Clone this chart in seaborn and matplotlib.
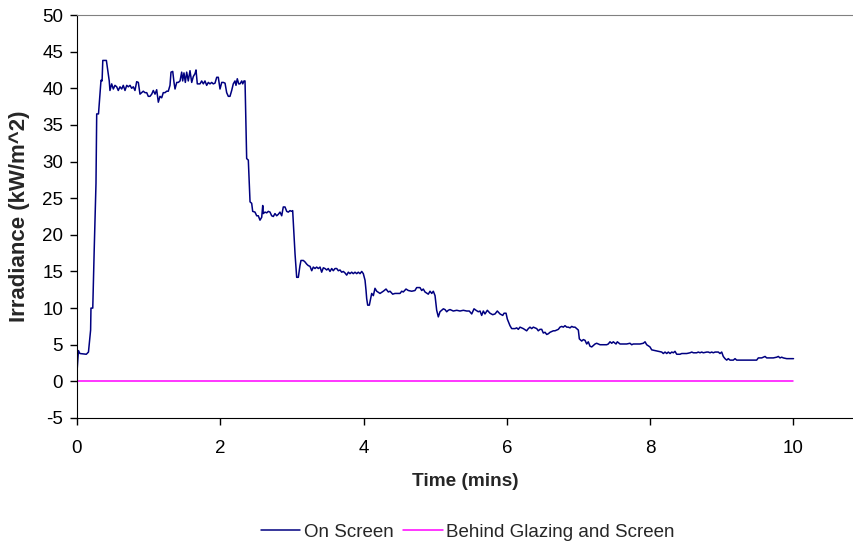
import numpy as np
import matplotlib
matplotlib.use("Agg")
import matplotlib.pyplot as plt
import pandas as pd
import seaborn as sns

# irradiance measured on the screen (kW/m^2) against time (mins)
on_screen_time = [
    0.00, 0.02, 0.04, 0.13, 0.16, 0.19, 0.195, 0.22, 0.24, 0.265,
    0.275, 0.30, 0.335, 0.35, 0.36, 0.41, 0.45, 0.46, 0.484, 0.507,
    0.530, 0.554, 0.576, 0.600, 0.624, 0.646, 0.670, 0.694, 0.716, 0.740,
    0.763, 0.786, 0.809, 0.833, 0.856, 0.879, 0.903, 0.925, 0.949, 0.973,
    0.995, 1.019, 1.043, 1.065, 1.089, 1.112, 1.135, 1.158, 1.182, 1.204,
    1.228, 1.252, 1.274, 1.298, 1.312, 1.336, 1.354, 1.368, 1.392, 1.414,
    1.438, 1.461, 1.475, 1.493, 1.512, 1.531, 1.553, 1.577, 1.601, 1.623,
    1.647, 1.661, 1.679, 1.717, 1.740, 1.763, 1.786, 1.810, 1.833, 1.856,
    1.880, 1.902, 1.926, 1.950, 1.972, 1.996, 2.020, 2.042, 2.066, 2.089,
    2.112, 2.135, 2.159, 2.181, 2.205, 2.219, 2.237, 2.257, 2.275, 2.299,
    2.313, 2.331, 2.345,
    2.368, 2.391, 2.415, 2.438, 2.452, 2.484, 2.508, 2.530, 2.554, 2.578,
    2.592, 2.600, 2.624, 2.648, 2.670, 2.694, 2.717, 2.740, 2.763, 2.787,
    2.810, 2.833, 2.857, 2.879, 2.903, 2.927, 2.949, 2.973, 2.997, 3.010,
    3.043, 3.066, 3.089, 3.112, 3.126, 3.159, 3.182, 3.206, 3.228, 3.252,
    3.276, 3.298, 3.322, 3.345, 3.368, 3.392, 3.415, 3.438, 3.461, 3.485,
    3.507, 3.531, 3.555, 3.577, 3.601, 3.625, 3.647, 3.671, 3.694, 3.717,
    3.740, 3.764, 3.787, 3.810, 3.834, 3.856, 3.880, 3.904, 3.926, 3.950,
    3.974, 3.996, 4.020, 4.034, 4.043, 4.057, 4.080,
    4.113, 4.136, 4.159, 4.183, 4.229, 4.275, 4.313, 4.345, 4.369, 4.406,
    4.438, 4.508, 4.532, 4.554, 4.592, 4.624, 4.671, 4.717, 4.741, 4.787,
    4.811, 4.833, 4.857, 4.903, 4.927, 4.951, 4.973, 4.997,
    5.020, 5.043, 5.066, 5.090, 5.113, 5.136, 5.160, 5.182, 5.206, 5.252,
    5.300, 5.345, 5.392, 5.439, 5.475, 5.509, 5.541, 5.569, 5.601, 5.625,
    5.648, 5.671, 5.694, 5.727, 5.764, 5.802, 5.834, 5.866, 5.904, 5.942,
    5.960, 5.988,
    6.006, 6.043, 6.067, 6.113, 6.137, 6.159, 6.183, 6.229, 6.276, 6.299,
    6.322, 6.346, 6.369, 6.416, 6.438, 6.462, 6.486, 6.508, 6.532, 6.556,
    6.578, 6.602, 6.648, 6.671, 6.718, 6.741, 6.765, 6.787, 6.811, 6.835,
    6.857, 6.881, 6.905, 6.927, 6.951, 6.974, 6.997,
    7.011, 7.044, 7.067, 7.090, 7.114, 7.136, 7.160, 7.184, 7.206, 7.230,
    7.253, 7.276, 7.300, 7.346, 7.393, 7.415, 7.439, 7.463, 7.485, 7.523,
    7.541, 7.579, 7.625, 7.672, 7.718, 7.742, 7.764, 7.812, 7.858, 7.904,
    7.928, 7.951, 7.997,
    8.021, 8.067, 8.113, 8.161, 8.183, 8.207, 8.231, 8.253, 8.277, 8.301,
    8.323, 8.346, 8.370, 8.416, 8.440, 8.462, 8.510, 8.556, 8.580, 8.602,
    8.649, 8.671, 8.695, 8.719, 8.741, 8.789, 8.811, 8.835, 8.858, 8.881,
    8.905, 8.928, 8.951, 8.974, 8.998,
    9.020, 9.044, 9.068, 9.090, 9.114, 9.160, 9.184, 9.207, 9.253, 9.347,
    9.439, 9.486, 9.509, 9.556, 9.603, 9.626, 9.672, 9.718, 9.766, 9.788,
    9.812, 9.835, 9.858, 9.905, 9.951, 10.0,
]
on_screen_irr = [
    1.3, 4.2, 3.8, 3.7, 4.0, 7.0, 10.0, 10.0, 17.9, 27.0,
    36.5, 36.5, 41.1, 41.0, 43.8, 43.8, 41.0, 39.7, 40.6, 39.9,
    40.4, 40.2, 39.7, 40.2, 39.9, 40.4, 39.7, 40.4, 40.2, 40.4,
    40.0, 40.2, 39.7, 40.9, 40.8, 39.2, 39.4, 39.6, 39.4, 39.4,
    38.9, 38.9, 39.2, 39.7, 39.2, 39.8, 38.1, 38.9, 38.7, 39.4,
    39.4, 39.6, 39.6, 40.4, 42.2, 42.3, 40.8, 39.9, 40.8, 40.8,
    41.0, 42.2, 41.0, 42.1, 40.8, 42.2, 41.0, 42.4, 40.8, 41.6,
    42.0, 42.5, 40.6, 40.6, 41.0, 40.6, 41.0, 40.4, 40.8, 40.6,
    40.8, 40.6, 40.7, 41.5, 41.5, 39.9, 40.8, 40.8, 40.7, 39.4,
    38.9, 38.9, 39.7, 40.6, 41.0, 40.4, 41.3, 40.6, 40.6, 41.0,
    40.6, 41.0, 41.0,
    30.4, 30.2, 24.5, 24.3, 23.2, 23.1, 22.6, 22.6, 22.0, 22.4,
    24.0, 22.9, 23.1, 23.0, 23.2, 23.1, 22.6, 22.5, 22.9, 22.6,
    22.8, 23.1, 22.6, 23.8, 23.8, 23.2, 23.1, 23.3, 23.2, 23.3,
    17.4, 14.2, 14.2, 15.8, 16.5, 16.5, 16.3, 16.0, 15.8, 15.7,
    15.1, 15.6, 15.4, 15.6, 15.4, 15.6, 14.9, 15.5, 15.4, 15.2,
    15.4, 15.0, 15.4, 15.1, 15.4, 15.4, 15.1, 15.2, 14.9, 15.0,
    14.8, 14.5, 14.9, 14.7, 14.9, 14.7, 14.9, 14.7, 14.9, 14.7,
    15.0, 14.7, 13.8, 12.4, 11.3, 10.4, 10.4,
    12.0, 11.7, 12.7, 12.3, 12.0, 12.3, 12.6, 12.2, 12.3, 11.9,
    12.0, 12.0, 12.3, 12.2, 12.6, 12.4, 12.3, 12.4, 12.8, 12.8,
    12.4, 12.6, 12.2, 11.9, 12.3, 12.0, 12.3, 11.7,
    9.7, 8.8, 9.5, 9.7, 9.9, 9.8, 9.5, 9.7, 9.8, 9.6,
    9.7, 9.6, 9.7, 9.6, 9.6, 9.2, 9.9, 9.7, 9.5, 9.6,
    9.0, 9.6, 9.2, 9.7, 9.3, 9.1, 9.2, 9.6, 9.2, 9.0,
    9.3, 9.3,
    8.5, 7.6, 7.2, 7.2, 7.3, 7.1, 7.4, 7.2, 6.9, 7.2,
    7.4, 7.2, 7.4, 7.2, 6.9, 7.1, 7.1, 6.6, 6.7, 6.4,
    6.5, 6.7, 6.9, 6.9, 7.1, 7.4, 7.5, 7.4, 7.6, 7.4,
    7.4, 7.3, 7.5, 7.4, 7.4, 7.2, 7.0,
    5.8, 5.5, 5.7, 5.6, 5.1, 5.4, 4.8, 4.7, 4.9, 5.1,
    5.2, 5.1, 5.0, 5.0, 5.0, 5.1, 5.4, 5.2, 5.4, 5.1,
    5.4, 5.1, 5.1, 5.1, 5.2, 5.0, 5.1, 5.1, 5.1, 5.2,
    5.4, 5.0, 4.7,
    4.3, 4.2, 4.1, 4.0, 3.8, 4.0, 3.8, 4.0, 3.8, 4.0,
    3.9, 4.1, 3.7, 3.7, 3.8, 3.8, 3.8, 3.9, 4.0, 3.9,
    3.9, 4.0, 3.9, 4.0, 3.9, 4.0, 4.0, 3.9, 4.0, 3.9,
    4.0, 4.0, 4.0, 3.8, 4.0,
    3.4, 3.1, 2.9, 3.1, 2.9, 2.9, 3.1, 2.9, 2.9, 2.9,
    2.9, 2.9, 3.2, 3.2, 3.4, 3.2, 3.2, 3.2, 3.3, 3.4,
    3.2, 3.3, 3.2, 3.1, 3.1, 3.1,
]

# behind glazing and screen stays at zero the whole time
behind_time = [0.0, 10.0]
behind_irr = [0.0, 0.0]

y_ticks = [-5, 0, 5, 10, 15, 20, 25, 30, 35, 40, 45, 50]
x_ticks = [0, 2, 4, 6, 8, 10]

assert len(on_screen_time) == len(on_screen_irr)

sns.set_style("ticks")
plt.rcParams["font.family"] = ["Liberation Sans", "DejaVu Sans"]
plt.rcParams["axes.unicode_minus"] = False

fig = plt.figure(figsize=(8.54, 5.43), dpi=100)
ax = fig.add_axes([77 / 854, 1 - 418 / 543, 1 - 77 / 854, (418 - 15) / 543])

sns.lineplot(x=on_screen_time, y=on_screen_irr, ax=ax, color="#000080",
             linewidth=1.1, label="On Screen", sort=False, estimator=None)
sns.lineplot(x=behind_time, y=behind_irr, ax=ax, color="#FF00FF",
             linewidth=1.1, label="Behind Glazing and Screen", sort=False,
             estimator=None)

ax.set_xlim(0, (854 - 77) / 71.65)
ax.set_ylim(-5, 50)
ax.set_xticks(x_ticks)
ax.set_yticks(y_ticks)
ax.tick_params(labelsize=13.5, length=5, width=1, colors="black")
ax.tick_params(axis="y", pad=5)
ax.tick_params(axis="x", pad=11)

ax.spines["right"].set_visible(False)
ax.spines["top"].set_color("#808080")
ax.spines["left"].set_color("black")
ax.spines["bottom"].set_color("black")

ax.set_xlabel("Time (mins)", fontsize=13.7, fontweight="bold", labelpad=11)
ax.set_ylabel("Irradiance (kW/m^2)", fontsize=16, fontweight="bold",
              labelpad=9)

ax.get_legend().remove()
handles, labels = ax.get_legend_handles_labels()
fig.legend(handles, labels, loc="center", bbox_to_anchor=(468 / 854, 1 - 532 / 543),
           ncol=2, frameon=False, fontsize=13.5, handlelength=2.1,
           handletextpad=0.2, columnspacing=0.5)

fig.savefig("out.png", dpi=100)
